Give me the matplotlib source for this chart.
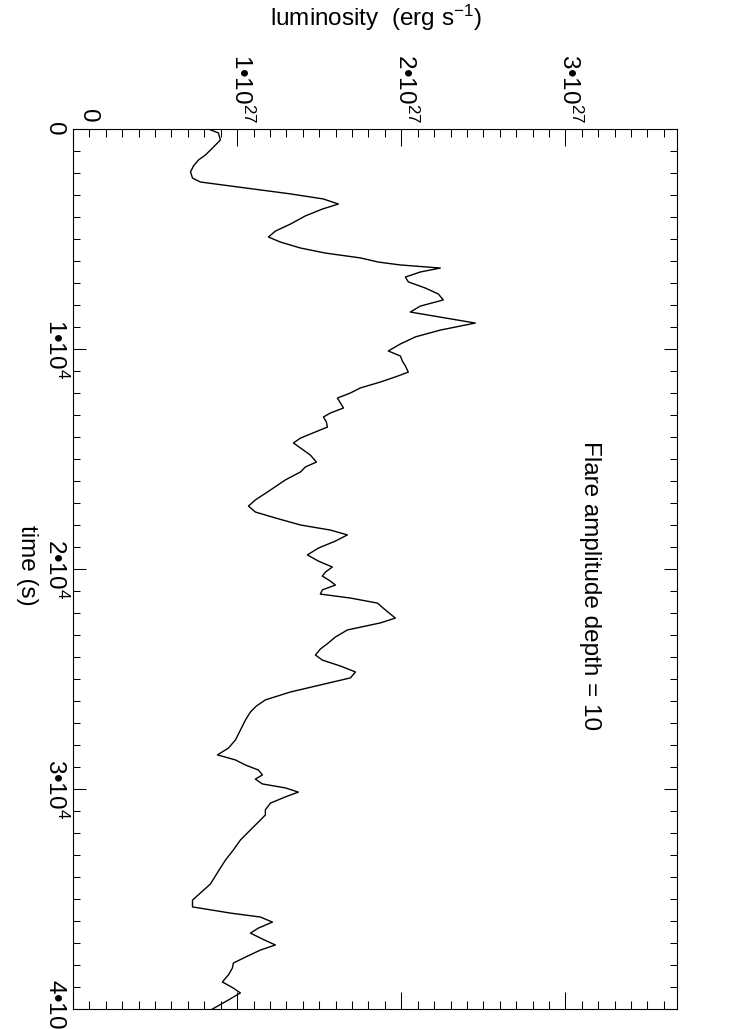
import numpy as np
import matplotlib
matplotlib.use('Agg')
import matplotlib.pyplot as plt
from matplotlib.ticker import MultipleLocator
from matplotlib import transforms

plt.rcParams['font.family'] = ['Liberation Sans', 'DejaVu Sans']
plt.rcParams['mathtext.fontset'] = 'custom'
plt.rcParams['mathtext.rm'] = 'Liberation Sans'
plt.rcParams['mathtext.it'] = 'Liberation Sans'
plt.rcParams['mathtext.default'] = 'regular'

# light curve: time in units of 1e3 s, luminosity in units of 1e27 erg/s
time_ks = [0.00, 0.18, 0.50, 0.82, 1.18, 1.41, 1.68, 1.95, 2.23, 2.41,
           2.59, 2.77, 2.95, 3.18, 3.41, 3.64, 3.95, 4.32, 4.64, 4.91,
           5.14, 5.41, 5.64, 5.86, 6.05, 6.18, 6.32, 6.50, 6.73, 6.95,
           7.23, 7.50, 7.77, 8.05, 8.32, 8.59, 8.82, 9.14, 9.45, 9.77,
           10.09, 10.32, 10.55, 10.77, 11.05, 11.27, 11.50, 11.77, 12.00, 12.23,
           12.45, 12.68, 12.91, 13.09, 13.32, 13.55, 13.77, 14.05, 14.27, 14.50,
           14.82, 15.14, 15.36, 15.59, 15.95, 16.41, 16.86, 17.14, 17.41, 17.68,
           18.00, 18.23, 18.45, 18.73, 19.05, 19.36, 19.64, 19.91, 20.14, 20.32,
           20.55, 20.73, 20.95, 21.14, 21.32, 21.55, 21.86, 22.23, 22.45, 22.77,
           23.09, 23.36, 23.64, 23.91, 24.14, 24.41, 24.68, 24.95, 25.27, 25.59,
           25.95, 26.23, 26.50, 26.86, 27.32, 27.77, 28.14, 28.45, 28.68, 28.91,
           29.14, 29.36, 29.55, 29.77, 29.95, 30.14, 30.36, 30.64, 30.95, 31.18,
           31.41, 31.86, 32.32, 32.77, 33.23, 33.59, 33.95, 34.32, 34.73, 35.05,
           35.36, 35.64, 35.82, 36.05, 36.32, 36.55, 36.82, 37.09, 37.32, 37.64,
           37.91, 38.14, 38.45, 38.77, 39.05, 39.27, 39.59, 40.00]
lum_e27 = [0.825, 0.886, 0.898, 0.856, 0.807, 0.764, 0.734, 0.716, 0.728, 0.776,
           0.959, 1.142, 1.325, 1.525, 1.617, 1.519, 1.416, 1.325, 1.233, 1.191,
           1.264, 1.386, 1.538, 1.751, 1.861, 1.995, 2.238, 2.116, 2.025, 2.043,
           2.147, 2.226, 2.256, 2.116, 2.055, 2.268, 2.451, 2.238, 2.086, 1.995,
           1.921, 1.995, 2.007, 2.025, 2.043, 1.964, 1.873, 1.751, 1.690, 1.611,
           1.629, 1.648, 1.568, 1.526, 1.544, 1.550, 1.477, 1.386, 1.343, 1.386,
           1.446, 1.483, 1.416, 1.386, 1.294, 1.203, 1.111, 1.069, 1.111, 1.233,
           1.386, 1.568, 1.672, 1.599, 1.495, 1.428, 1.495, 1.580, 1.538, 1.519,
           1.568, 1.599, 1.519, 1.507, 1.690, 1.855, 1.903, 1.964, 1.873, 1.672,
           1.599, 1.556, 1.507, 1.477, 1.519, 1.629, 1.721, 1.690, 1.507, 1.325,
           1.172, 1.117, 1.081, 1.051, 1.020, 0.990, 0.947, 0.880, 0.990, 1.051,
           1.130, 1.154, 1.111, 1.154, 1.294, 1.373, 1.294, 1.203, 1.172, 1.172,
           1.142, 1.081, 1.020, 0.977, 0.929, 0.898, 0.868, 0.837, 0.776, 0.728,
           0.728, 0.959, 1.142, 1.215, 1.130, 1.081, 1.154, 1.233, 1.142, 1.051,
           0.977, 0.971, 0.947, 0.910, 0.977, 1.020, 0.947, 0.850]

time = np.array(time_ks) * 1e3
lum = np.array(lum_e27) * 1e27

lum_ticks = [0, 1e27, 2e27, 3e27]
lum_tick_labels = ['0', r'$1•10^{27}$', r'$2•10^{27}$', r'$3•10^{27}$']
time_ticks = [0, 1e4, 2e4, 3e4, 4e4]
time_tick_labels = ['0', r'$1•10^{4}$', r'$2•10^{4}$', r'$3•10^{4}$', r'$4•10^{4}$']
depth = 10

W, H = 752, 1029
fig = plt.figure(figsize=(W / 100, H / 100), dpi=100)
ax = fig.add_axes([73 / W, 1 - 1009 / H, (677 - 73) / W, (1009 - 129) / H])

ax.plot(lum, time, color='k', lw=1.0)
ax.set_xlim(0, 3.68e27)
ax.set_ylim(4e4, 0)

ax.xaxis.set_major_locator(MultipleLocator(1e27))
ax.xaxis.set_minor_locator(MultipleLocator(1e26))
ax.yaxis.set_major_locator(MultipleLocator(1e4))
ax.yaxis.set_minor_locator(MultipleLocator(1e3))
ax.tick_params(which='both', direction='in', top=True, bottom=True, left=True, right=True,
               labelbottom=False, labelleft=False, width=0.75, color='k')
ax.tick_params(axis='x', which='major', length=12.2)
ax.tick_params(axis='x', which='minor', length=5.8)
ax.tick_params(axis='y', which='major', length=9.4)
ax.tick_params(axis='y', which='minor', length=4.7)
for s in ax.spines.values():
    s.set_linewidth(0.8)

fs = 17.5
# luminosity labels along the top, rotated like the rest of the page
top_tr = transforms.blended_transform_factory(ax.transData, ax.transAxes)
for v, lab in zip(lum_ticks, lum_tick_labels):
    dx = 4 if v == 0 else -8
    tr = transforms.offset_copy(top_tr, fig=fig, x=dx, y=6, units='dots')
    ax.text(v, 1, lab, rotation=-90, ha='left', va='bottom', fontsize=fs,
            transform=tr, clip_on=False)

# time labels down the left side
left_tr = transforms.blended_transform_factory(fig.transFigure, ax.transData)
for v, lab in zip(time_ticks, time_tick_labels):
    ax.text(43 / W, v, lab, rotation=-90, ha='left', va='center', fontsize=fs,
            transform=left_tr, clip_on=False)

fig.text(376 / W, 1 - 26 / H, 'luminosity  (erg s$^{-1}$)', ha='center', va='baseline',
         fontsize=fs)
fig.text(27 / W, 1 - 565 / H, 'time (s)', rotation=-90, ha='center', va='center',
         fontsize=fs)
fig.text(590 / W, 1 - 586 / H, 'Flare amplitude depth = %d' % depth, rotation=-90,
         ha='center', va='center', fontsize=fs)

fig.savefig('out.png', dpi=100)
